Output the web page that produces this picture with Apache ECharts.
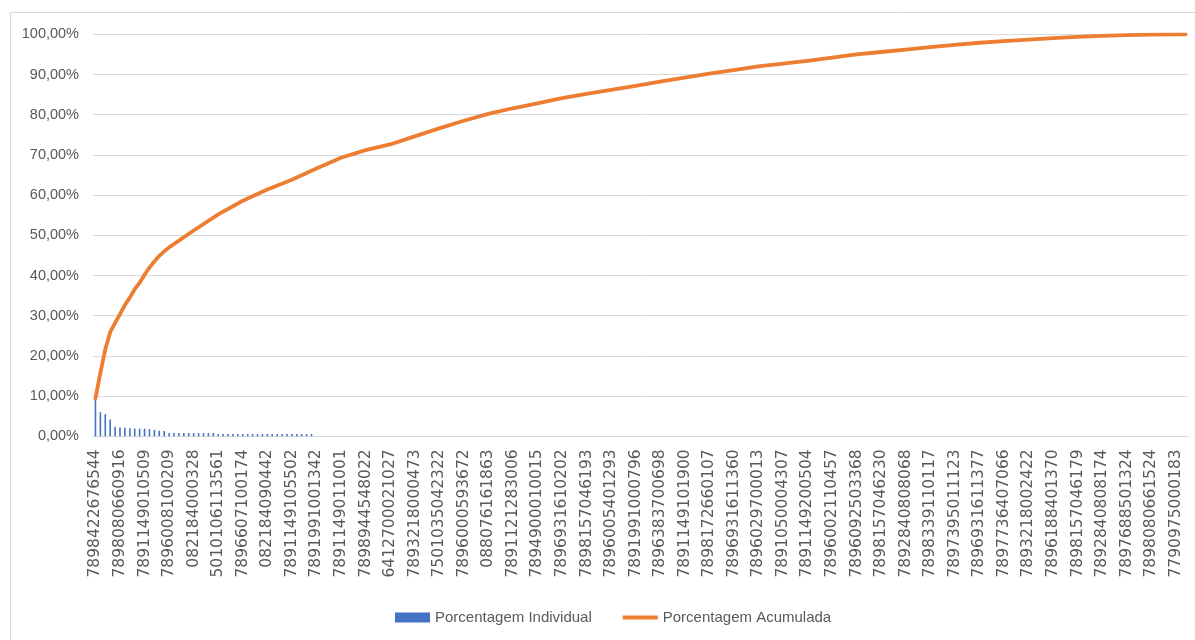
<!DOCTYPE html>
<html>
<head>
<meta charset="utf-8">
<script src="https://cdn.jsdelivr.net/npm/echarts@6/dist/echarts.min.js"></script>
<style>
html,body{margin:0;padding:0;background:#fff;}
#chart{width:1195px;height:640px;}
</style>
</head>
<body>
<div id="chart"></div>
<script>
// ---- data ----
const categoryCount = 223;          // number of products on the x axis
const labelStep = 5;                // every 5th category carries a visible label
const tickLabels = [
  '7898422676544','7898080660916','7891149010509','7896008100209','082184000328',
  '5010106113561','7896607100174','082184090442','7891149105502','7891991001342',
  '7891149011001','7898944548022','6412700021027','7893218000473','7501035042322',
  '7896000593672','088076161863','7891121283006','7894900010015','7896931610202',
  '7898157046193','7896005401293','7891991000796','7896383700698','7891149101900',
  '7898172660107','7896931611360','7896029700013','7891050004307','7891149200504',
  '7896002110457','7896092503368','7898157046230','7892840808068','7898339110117',
  '7897395011123','7896931611377','7897736407066','7893218002422','7896188401370',
  '7898157046179','7892840808174','7897688501324','7898080661524','7790975000183'
];
// individual percentage (visible bars, first 45 products)
const individualPct = [
  9.4, 6.0, 5.5, 4.2, 2.4, 2.2, 2.1, 2.0, 1.9, 1.9,
  1.9, 1.8, 1.6, 1.4, 1.3, 0.8, 0.8, 0.8, 0.8, 0.8,
  0.8, 0.8, 0.8, 0.8, 0.8, 0.55, 0.55, 0.55, 0.55, 0.55,
  0.55, 0.55, 0.55, 0.55, 0.55, 0.55, 0.55, 0.55, 0.55, 0.55,
  0.55, 0.55, 0.55, 0.55, 0.55
];
// cumulative percentage read at these category positions
const cumIndex = [0,1,2,3,4,5,6,7,8,9,10,11,12,13,14,15,
  20,25,30,35,40,45,50,55,60,65,70,75,80,85,90,95,100,105,110,115,120,
  125,130,135,140,145,150,155,160,165,170,175,180,185,190,195,200,205,210,215,220,222];
const cumValues = [9.4,15.8,21.6,25.9,28.2,30.4,32.7,34.5,36.6,38.2,40.2,42.0,43.5,44.9,46.0,47.0,
  51.2,55.2,58.6,61.4,63.8,66.6,69.3,71.2,72.6,74.6,76.6,78.5,80.2,81.6,82.8,84.1,85.2,86.2,87.2,88.2,89.2,
  90.2,91.1,92.0,92.7,93.4,94.2,95.0,95.6,96.2,96.8,97.35,97.9,98.3,98.7,99.05,99.35,99.6,99.8,99.9,100,100];
const yTicks = {min: 0, max: 100, interval: 10};

// ---- build ----
const categories = [];
for (let i = 0; i < categoryCount; i++) {
  categories.push(i % labelStep === 0 ? tickLabels[i / labelStep] : '');
}
const lineData = cumIndex.map((c, k) => [c, cumValues[k]]);

const chart = echarts.init(document.getElementById('chart'), null, {renderer: 'canvas'});
const gray = '#595959';
chart.setOption({
  backgroundColor: '#ffffff',
  animation: false,
  graphic: [{
    type: 'rect', left: 8, top: 10, z: -1,
    shape: {width: 1300, height: 800},
    style: {fill: 'none', stroke: '#d9d9d9', lineWidth: 1}
  }],
  grid: {left: 93, right: 7, top: 34.3, bottom: 203.7, containLabel: false},
  legend: {
    left: 390, top: 605,
    itemWidth: 35, itemHeight: 10, itemGap: 31,
    textStyle: {color: gray, fontFamily: 'Liberation Sans', fontSize: 15},
    data: [
      {name: 'Porcentagem Individual', icon: 'rect'},
      {name: 'Porcentagem Acumulada', icon: 'path://M0,0 L35,0 L35,4 L0,4 Z', itemStyle: {color: '#ED7D31'}}
    ]
  },
  xAxis: {
    type: 'category',
    data: categories,
    boundaryGap: true,
    axisLine: {show: true, lineStyle: {color: '#d9d9d9', width: 1}},
    axisTick: {show: false},
    axisLabel: {
      interval: labelStep - 1, rotate: 90, margin: 13,
      color: gray, fontFamily: 'DejaVu Sans', fontSize: 15.5
    },
    splitLine: {show: false}
  },
  yAxis: {
    type: 'value',
    min: yTicks.min, max: yTicks.max, interval: yTicks.interval,
    axisLine: {show: false},
    axisTick: {show: false},
    axisLabel: {
      margin: 14, color: gray, fontFamily: 'Liberation Sans', fontSize: 14.5,
      formatter: v => v.toFixed(2).replace('.', ',') + '%'
    },
    splitLine: {lineStyle: {color: '#d9d9d9', width: 1}}
  },
  series: [
    {
      name: 'Porcentagem Individual',
      type: 'bar',
      data: individualPct,
      barWidth: 1.6,
      itemStyle: {color: '#4472C4'},
      z: 2
    },
    {
      name: 'Porcentagem Acumulada',
      type: 'line',
      data: lineData,
      showSymbol: false,
      symbol: 'none',
      itemStyle: {color: '#ED7D31'},
      lineStyle: {color: '#ED7D31', width: 3.8, cap: 'round', join: 'round'},
      z: 3
    }
  ]
});
</script>
</body>
</html>
